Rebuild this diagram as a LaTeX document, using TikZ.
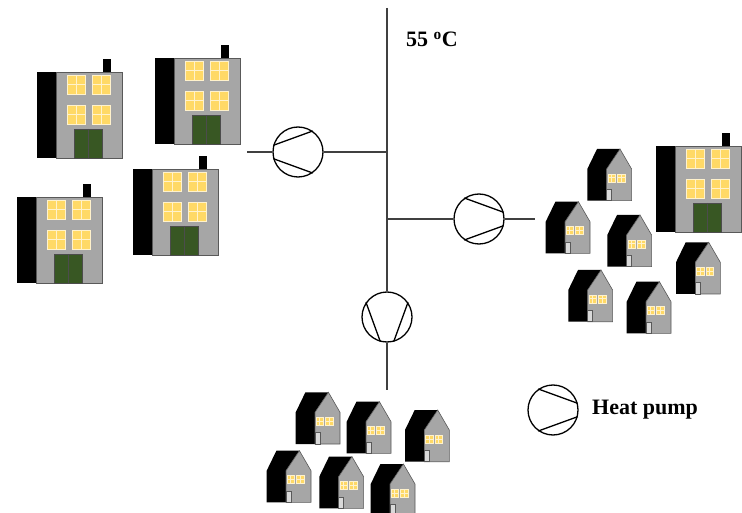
\documentclass[tikz,border=0pt]{standalone}
\usepackage{fontspec}
\setmainfont{Liberation Serif}
\usetikzlibrary{positioning}

\definecolor{wallgray}{HTML}{A6A6A6}
\definecolor{lamp}{HTML}{FFD966}
\definecolor{lampline}{HTML}{FFF2CC}
\definecolor{doorgreen}{HTML}{385723}
\definecolor{doorlight}{HTML}{D9D9D9}
\definecolor{edge}{HTML}{595959}
\definecolor{pipe}{HTML}{404040}

\tikzset{
  pump/.style={draw, circle, line width=1.3pt, minimum size=50pt, inner sep=0pt},
  pipeline/.style={draw=pipe, line width=1.1pt},
  label/.style={font=\bfseries\fontsize{22}{26}\selectfont, inner sep=0pt},
  % one lit window with its cross
  pics/pane/.style args={#1/#2}{code={
    \filldraw[fill=lamp, draw=lampline, line width=0.6pt] (0,0) rectangle (#1,#2);
    \draw[lampline, line width=1pt] (#1/2,0) -- (#1/2,#2) (0,#2/2) -- (#1,#2/2);
  }},
  % block of flats, origin = top left of the wall
  pics/block/.style={code={
    \fill[black] (0,0) rectangle (19,86);
    \filldraw[fill=wallgray, draw=edge, line width=0.6pt] (19,0) rectangle (85,86);
    \fill[black] (66,-13) rectangle (74,0);
    \foreach \wx in {30,55}
      \foreach \wy in {3,33}
        \pic at (\wx,\wy) {pane=18/19};
    \filldraw[fill=doorgreen, draw=black!70, line width=0.6pt] (37,57) rectangle (65,86);
    \draw[black!70, line width=0.6pt] (51,57) -- (51,86);
  }},
  % small house, origin = left end of the roof line
  pics/cottage/.style={code={
    \fill[black] (0,20) -- (9.7,0) -- (32.7,0) -- (19.3,20) -- (19.3,51.7) -- (0,51.7) -- cycle;
    \filldraw[fill=wallgray, draw=edge, line width=0.6pt]
      (19.3,20) -- (32.7,0) -- (44.3,20) -- (44.3,51.7) -- (19.3,51.7) -- cycle;
    \pic at (20.5,25) {pane=7.5/8};
    \pic at (30,25) {pane=7.5/8};
    \filldraw[fill=doorlight, draw=edge, line width=0.6pt] (19.3,40.3) rectangle (24.3,51.7);
  }}
}

\begin{document}
\begin{tikzpicture}[x=1pt, y=-1pt]
  \useasboundingbox (0,0) rectangle (742,513);
  \clip (0,0) rectangle (742,513);

  % blocks of flats
  \pic at (37,72) {block};
  \pic at (155,58) {block};
  \pic at (17,197) {block};
  \pic at (133,169) {block};
  \pic at (656,146) {block};

  % houses on the right
  \foreach \hx/\hy in {587.3/149, 545.7/201.7, 607.3/215, 568.3/270, 626.7/281.7, 676/242.3}
    \pic at (\hx,\hy) {cottage};
  % houses at the bottom
  \foreach \hx/\hy in {295.7/392.3, 346.7/401.7, 405/410, 266.7/450.7, 319.3/456.7, 370.7/464}
    \pic at (\hx,\hy) {cottage};

  % pumps
  \node[pump] (pumpL) at (298,152) {};
  \node[pump] (pumpR) at (479,219) {};
  \node[pump] (pumpB) at (387,317) {};
  \node[pump] (pumpKey) at (553,410) {};

  \draw[line width=1.3pt] (pumpL.165) -- (pumpL.55) (pumpL.195) -- (pumpL.305);
  \draw[line width=1.3pt] (pumpR.15) -- (pumpR.125) (pumpR.345) -- (pumpR.235);
  \draw[line width=1.3pt] (pumpB.145) -- (pumpB.255) (pumpB.35) -- (pumpB.285);
  \draw[line width=1.3pt] (pumpKey.15) -- (pumpKey.125) (pumpKey.345) -- (pumpKey.235);

  % pipes
  \coordinate (top) at (387,8);
  \coordinate (teeL) at (387,152);
  \coordinate (teeR) at (387,219);
  \coordinate (bottom) at (387,390);
  \coordinate (endL) at (247,152);
  \coordinate (endR) at (535,219);

  \path[pipeline] (top) -- (pumpB.north);
  \path[pipeline] (pumpB.south) -- (bottom);
  \path[pipeline] (teeL) -- (pumpL.east);
  \path[pipeline] (pumpL.west) -- (endL);
  \path[pipeline] (teeR) -- (pumpR.west);
  \path[pipeline] (pumpR.east) -- (endR);

  % labels
  \node[label, anchor=base west] (temp) at (406,47) {55 \textsuperscript{o}C};
  \node[label, anchor=base west] (key) at (592,414) {Heat pump};
\end{tikzpicture}
\end{document}
